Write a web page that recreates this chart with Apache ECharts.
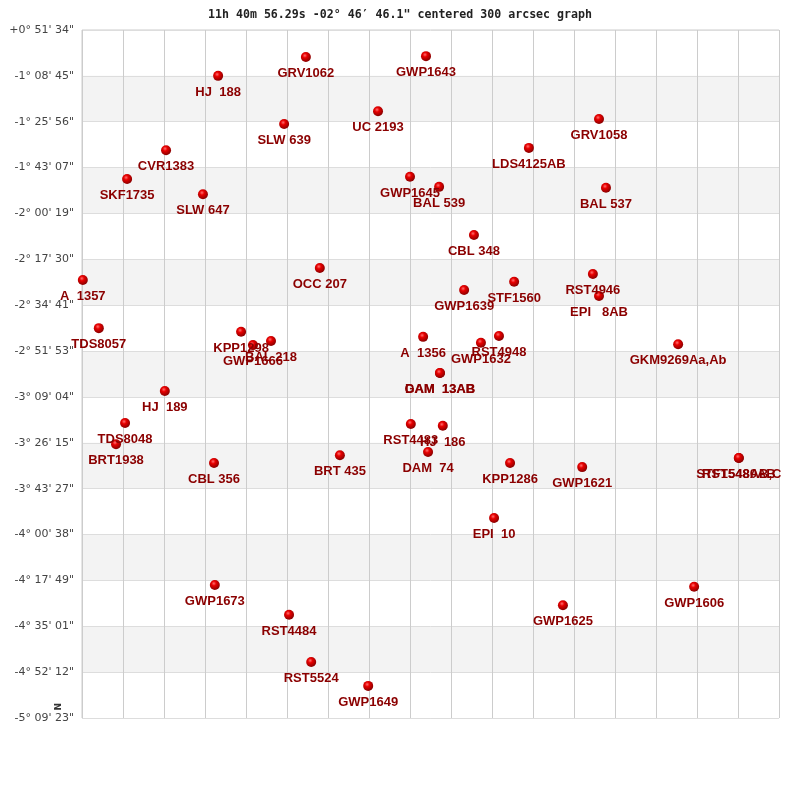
<!DOCTYPE html>
<html>
<head>
<meta charset="utf-8">
<script src="https://cdn.jsdelivr.net/npm/echarts@6/dist/echarts.min.js"></script>
<style>html,body{margin:0;padding:0;background:#fff}#c{width:800px;height:800px}</style>
</head>
<body>
<div id="c"></div>
<script>
// Tick labels of the declination axis (top to bottom)
var decLabels = ['+0° 51\' 34"','-1° 08\' 45"','-1° 25\' 56"','-1° 43\' 07"','-2° 00\' 19"','-2° 17\' 30"','-2° 34\' 41"','-2° 51\' 53"','-3° 09\' 04"','-3° 26\' 15"','-3° 43\' 27"','-4° 00\' 38"','-4° 17\' 49"','-4° 35\' 01"','-4° 52\' 12"','-5° 09\' 23"'];
// Star names
var names = ['GRV1062','GWP1643','HJ  188','UC 2193','SLW 639','GRV1058','CVR1383','LDS4125AB','SKF1735','GWP1645','BAL 539','BAL 537','SLW 647','CBL 348','OCC 207','A  1357','RST4946','STF1560','GWP1639','EPI   8AB','TDS8057','KPP1298','BAL 218','GWP1666','A  1356','RST4948','GWP1632','GKM9269Aa,Ab','DAM  13AB','GAM  13AB','HJ  189','TDS8048','RST4483','HJ  186','BRT1938','DAM  74','BRT 435','CBL 356','KPP1286','GWP1621','STF1548AB,C','RST5480AB','EPI  10','GWP1673','GWP1606','GWP1625','RST4484','RST5524','GWP1649'];
// Horizontal position (grid columns)
var xs = [5.46,8.39,3.32,7.22,4.93,12.61,2.05,10.90,1.10,8.00,8.71,12.78,2.95,9.56,5.80,0.02,12.46,10.54,9.32,12.61,0.41,3.88,4.61,4.17,8.32,10.17,9.73,14.54,8.73,8.73,2.02,1.05,8.02,8.80,0.83,8.44,6.29,3.22,10.44,12.20,16.02,16.02,10.05,3.24,14.93,11.73,5.05,5.59,6.98];
// Vertical position (declination tick steps from top)
var ys = [0.59,0.57,1.00,1.77,2.05,1.94,2.62,2.57,3.25,3.20,3.42,3.44,3.58,4.47,5.19,5.45,5.32,5.49,5.67,5.80,6.50,6.58,6.78,6.87,6.69,6.67,6.82,6.85,7.48,7.48,7.87,8.57,8.59,8.63,9.03,9.20,9.27,9.44,9.44,9.53,9.33,9.33,10.64,12.10,12.14,12.54,12.75,13.78,14.30];

var data = names.map(function(n,i){ return {name:n, value:[xs[i], ys[i]]}; });

var chart = echarts.init(document.getElementById('c'));
chart.setOption({
  animation:false,
  title:{
    text:'11h 40m 56.29s -02° 46′ 46.1" centered 300 arcsec graph',
    left:'center', top:4,
    textStyle:{fontFamily:'DejaVu Sans Mono', fontWeight:'bold', fontSize:11.6, color:'#222'}
  },
  grid:{left:82, top:30, width:697, height:688, show:true, borderColor:'#ccc', borderWidth:1},
  xAxis:{
    type:'value', min:0, max:17, interval:1,
    axisLine:{show:false}, axisTick:{show:false}, axisLabel:{show:false},
    splitLine:{show:true, lineStyle:{color:'#cccccc', width:1}}
  },
  yAxis:{
    type:'value', min:0, max:15, interval:1, inverse:true,
    axisLine:{show:false}, axisTick:{show:false},
    axisLabel:{
      margin:8, fontFamily:'DejaVu Sans', fontSize:11, color:'#444',
      formatter:function(v){ return decLabels[Math.round(v)]; }
    },
    splitLine:{show:true, lineStyle:{color:'#dddddd', width:1}},
    splitArea:{show:true, areaStyle:{color:['#ffffff','#f3f3f3']}}
  },
  graphic:[{
    type:'text', left:52, top:703, rotation:-Math.PI/2,
    style:{text:'N', font:'bold 9px DejaVu Sans', fill:'#333'}
  }],
  series:[{
    type:'scatter', data:data, symbolSize:10, clip:false,
    itemStyle:{
      opacity:1,
      color:{type:'radial', x:0.4, y:0.35, r:0.65,
        colorStops:[{offset:0,color:'#ff7070'},{offset:0.35,color:'#e80000'},{offset:1,color:'#880000'}]}
    },
    label:{
      show:true, position:'bottom', distance:5,
      formatter:function(p){return p.name;},
      fontFamily:'Liberation Sans', fontWeight:'bold', fontSize:13, color:'#8b0000', opacity:1
    },
    labelLayout:{hideOverlap:false}
  }]
});
</script>
</body>
</html>
